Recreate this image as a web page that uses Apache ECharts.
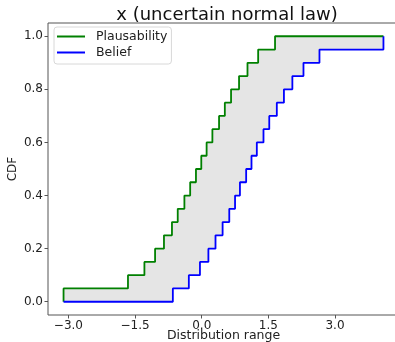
<!DOCTYPE html>
<html>
<head>
<meta charset="utf-8">
<script src="https://cdn.jsdelivr.net/npm/echarts@6/dist/echarts.min.js"></script>
<style>
  html, body { margin: 0; padding: 0; background: #fff; }
  #chart { width: 395px; height: 342px; }
</style>
</head>
<body>
<div id="chart"></div>
<script>
// CDF levels reached at each step
var cdfLevels = [0.05, 0.1, 0.15, 0.2, 0.25, 0.3, 0.35, 0.4, 0.45, 0.5,
                 0.55, 0.6, 0.65, 0.7, 0.75, 0.8, 0.85, 0.9, 0.95, 1.0];
// x where each curve jumps to the matching level
var plausX = [-3.11, -1.66, -1.29, -1.05, -0.85, -0.67, -0.54, -0.39, -0.26, -0.13,
              -0.01, 0.11, 0.24, 0.39, 0.52, 0.66, 0.84, 1.03, 1.27, 1.65];
var beliefX = [-0.65, -0.29, -0.04, 0.15, 0.31, 0.47, 0.62, 0.75, 0.86, 1.00,
               1.12, 1.24, 1.39, 1.52, 1.69, 1.85, 2.04, 2.29, 2.65, 4.09];
var rangeStart = -3.11;
var rangeEnd = 4.09;
var xTicks = [-3.0, -1.5, 0.0, 1.5, 3.0];
var yTicks = [0.0, 0.2, 0.4, 0.6, 0.8, 1.0];

function stepData(xs) {
  var d = [[rangeStart, 0]];
  for (var i = 0; i < xs.length; i++) d.push([xs[i], cdfLevels[i]]);
  if (xs[xs.length - 1] < rangeEnd) d.push([rangeEnd, 1.0]);
  return d;
}
// corner points of a step-end path
function corners(data) {
  var pts = [data[0]];
  for (var i = 1; i < data.length; i++) {
    pts.push([data[i][0], data[i - 1][1]]);
    pts.push(data[i]);
  }
  return pts;
}
var plausData = stepData(plausX);
var beliefData = stepData(beliefX);

function fmt(v) { return v.toFixed(1).replace('-', '\u2212'); }

var chart = echarts.init(document.getElementById('chart'));
var font = 'DejaVu Sans';
chart.setOption({
  animation: false,
  backgroundColor: '#fff',
  textStyle: { fontFamily: font },
  title: {
    text: 'x (uncertain normal law)',
    left: 222, top: 1, textAlign: 'center',
    textStyle: { fontFamily: font, fontSize: 18, fontWeight: 'normal', color: '#111' }
  },
  legend: {
    orient: 'vertical',
    left: 54, top: 27,
    padding: [3, 4, 5, 3],
    itemGap: 3,
    itemWidth: 28, itemHeight: 2,
    icon: 'rect',
    backgroundColor: '#fff',
    borderColor: '#d8d8d8', borderWidth: 1, borderRadius: 3,
    textStyle: { fontFamily: font, fontSize: 12.5, color: '#222', padding: [0, 0, 0, 6] },
    data: ['Plausability', 'Belief']
  },
  grid: {
    left: 48, top: 23, width: 351, height: 292,
    outerBoundsMode: 'none', containLabel: false,
    show: true, borderColor: '#555', borderWidth: 1, backgroundColor: 'transparent'
  },
  xAxis: {
    type: 'value', min: -3.46, max: 4.44,
    name: 'Distribution range', nameLocation: 'middle', nameGap: 14, nameMoveOverlap: false,
    nameTextStyle: { fontFamily: font, fontSize: 12.5, color: '#222' },
    axisLine: { show: false, onZero: false },
    splitLine: { show: false },
    axisTick: { show: true, length: 3.5, customValues: xTicks, lineStyle: { color: '#555' } },
    axisLabel: { customValues: xTicks, formatter: fmt, margin: 5, fontFamily: font, fontSize: 12, color: '#222' }
  },
  yAxis: {
    type: 'value', min: -0.05, max: 1.05,
    name: 'CDF', nameLocation: 'middle', nameGap: 29, nameMoveOverlap: false,
    nameTextStyle: { fontFamily: font, fontSize: 12, color: '#222' },
    axisLine: { show: false, onZero: false },
    splitLine: { show: false },
    axisTick: { show: true, length: 3.5, customValues: yTicks, lineStyle: { color: '#555' } },
    axisLabel: { customValues: yTicks, formatter: fmt, margin: 5, fontFamily: font, fontSize: 12, color: '#222' }
  },
  series: [
    {
      type: 'custom',
      z: 1,
      silent: true,
      data: [0],
      renderItem: function (params, api) {
        var top = corners(plausData);
        var bottom = corners(beliefData).reverse();
        var pts = top.concat(bottom).map(function (p) { return api.coord(p); });
        return { type: 'polygon', shape: { points: pts }, style: { fill: '#e5e5e5' } };
      }
    },
    {
      name: 'Plausability', type: 'line', step: 'end', z: 3,
      data: plausData, symbol: 'none',
      lineStyle: { color: '#008000', width: 1.8 },
      itemStyle: { color: '#008000' }
    },
    {
      name: 'Belief', type: 'line', step: 'end', z: 4,
      data: beliefData, symbol: 'none',
      lineStyle: { color: '#0000ff', width: 1.8 },
      itemStyle: { color: '#0000ff' }
    }
  ]
});
</script>
</body>
</html>
